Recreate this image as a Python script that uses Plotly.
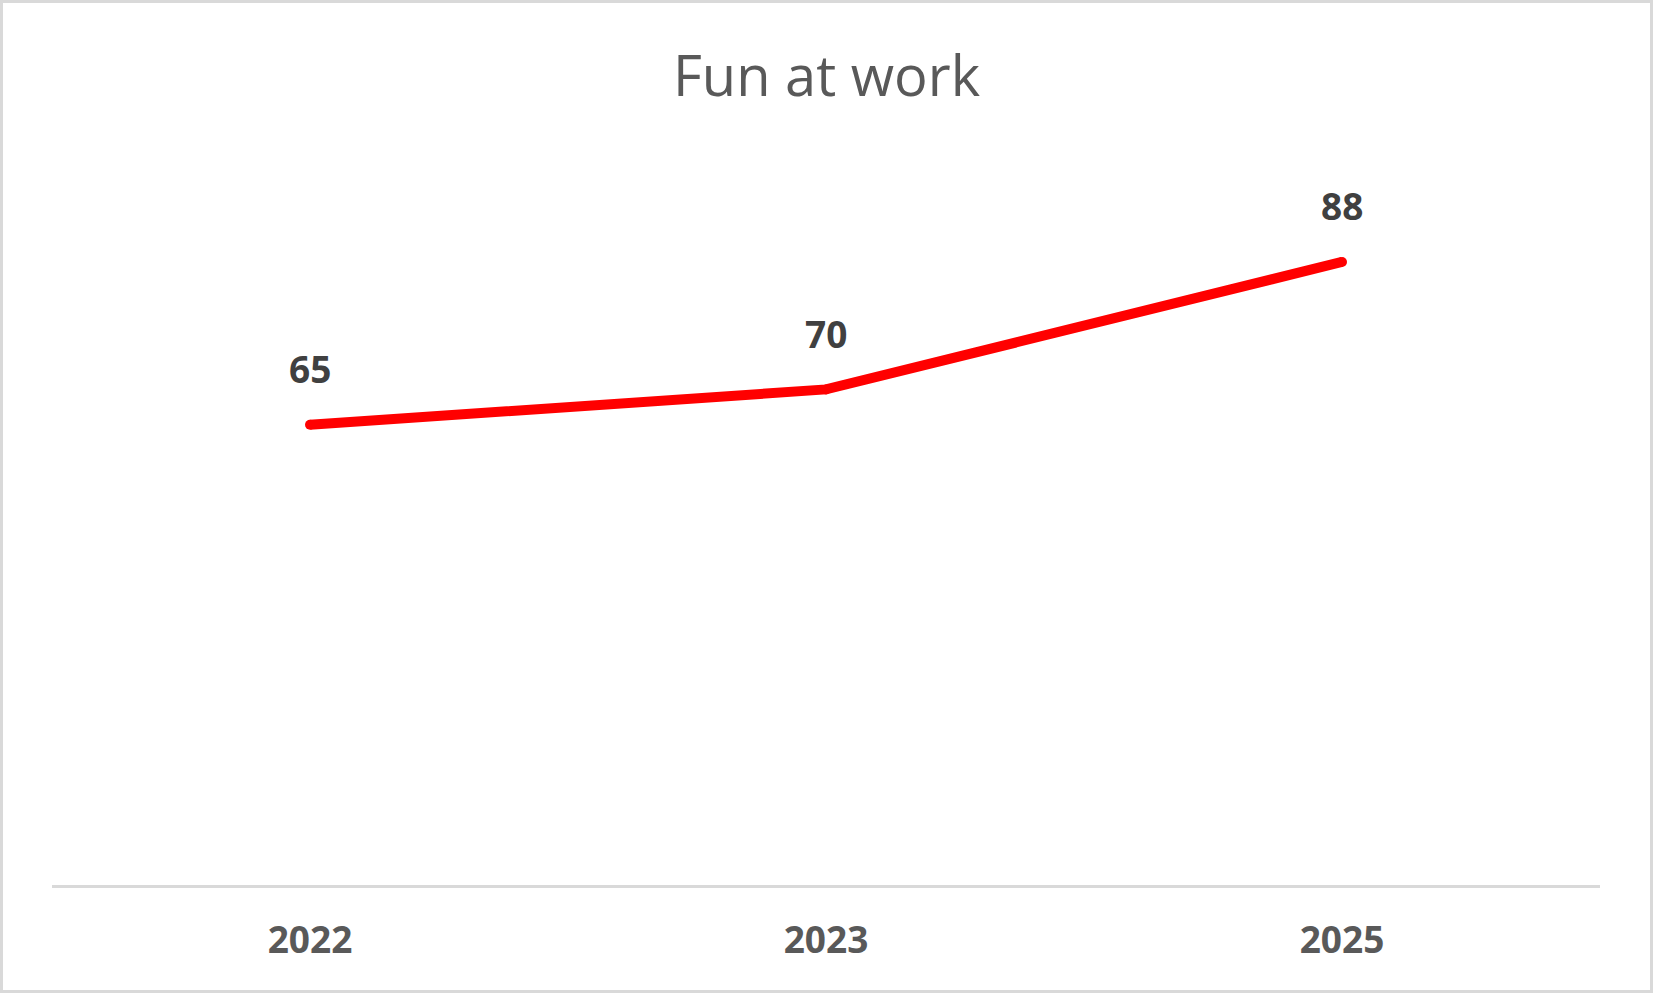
import plotly.graph_objects as go

# chart data
years = ["2022", "2023", "2025"]
fun_scores = [65, 70, 88]

W, H = 1653, 993
left, right, top, bottom = 52, 53, 177, 108
pw, ph = W - left - right, H - top - bottom

fig = go.Figure()
fig.add_trace(go.Scatter(
    x=years, y=fun_scores, mode="lines+markers",
    line=dict(color="#FF0000", width=10),
    marker=dict(color="#FF0000", size=10),  # gives the rounded ends
    hoverinfo="x+y", showlegend=False,
))

# data labels above each point (category index on x, value on y)
for i, val in enumerate(fun_scores):
    fig.add_annotation(
        x=i, y=val, text="<b>%d</b>" % val, showarrow=False,
        yshift=56, font=dict(family="Open Sans", size=37, color="#404040"),
    )

# light grey frame round the whole chart
fig.add_shape(
    type="rect", xref="paper", yref="paper", layer="below",
    x0=(1.5 - left) / pw, x1=(W - 1.5 - left) / pw,
    y0=-(H - 1.5 - top - ph) / ph, y1=(top - 1.5) / ph + 1,
    line=dict(color="#D9D9D9", width=3),
)

fig.update_layout(
    width=W, height=H,
    margin=dict(l=left, r=right, t=top, b=bottom),
    paper_bgcolor="white", plot_bgcolor="white",
    title=dict(text="Fun at work", x=0.5, xanchor="center",
               y=1 - 76 / H, yanchor="middle",
               font=dict(family="Open Sans", size=56, color="#595959")),
    xaxis=dict(type="category", range=[-0.5, 2.5], showgrid=False,
               showline=True, linecolor="#D9D9D9", linewidth=3,
               ticks="", ticklabelstandoff=21,
               tickfont=dict(family="Open Sans", size=37, color="#595959", weight="bold")),
    yaxis=dict(range=[0, 100], visible=False, showgrid=False, zeroline=False),
)

fig.write_html("out.html", config={"displayModeBar": False},
               post_script="document.body.style.margin='0';")
